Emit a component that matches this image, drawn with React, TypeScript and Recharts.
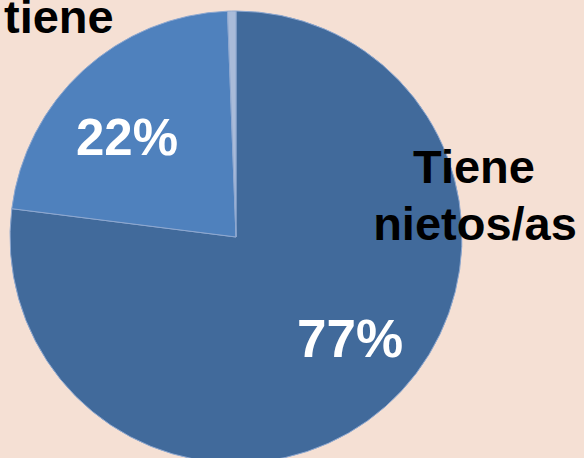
import * as React from 'react'
import { Pie, PieChart, Cell } from 'recharts'

const CATEGORIES = ['Tiene nietos/as', 'No tiene', 'NS/NC']
const VALUES = [77, 22.4, 0.6]
const PERCENT_LABELS = ['77%', '22%']

const SLICE_COLORS = ['#416a9b', '#4f81bd', '#a9bbd9']
const BG = '#f5e0d4'

const chartData = CATEGORIES.map((name, i) => ({ name, value: VALUES[i] }))

const labelFont: React.CSSProperties = {
  fontFamily: '"Liberation Sans", Arial, sans-serif',
  fontWeight: 700,
}

export default function App() {
  return (
    <div
      style={{
        position: 'fixed',
        left: 0,
        top: 0,
        width: 584,
        height: 458,
        background: BG,
        overflow: 'hidden',
      }}
    >
      <PieChart width={584} height={458} margin={{ top: 0, right: 0, bottom: 0, left: 0 }}>
        <Pie
          data={chartData}
          dataKey="value"
          nameKey="name"
          cx={236}
          cy={237}
          outerRadius={226}
          startAngle={90}
          endAngle={-270}
          stroke="#8ea8d0"
          strokeWidth={1}
          isAnimationActive={false}
        >
          {chartData.map((_, index) => (
            <Cell key={`cell-${index}`} fill={SLICE_COLORS[index]} />
          ))}
        </Pie>
      </PieChart>
      <svg
        width={584}
        height={458}
        style={{ position: 'absolute', left: 0, top: 0, pointerEvents: 'none' }}
      >
        <text x={350} y={357} textAnchor="middle" fill="#ffffff" fontSize={53} style={labelFont}>
          {PERCENT_LABELS[0]}
        </text>
        <text x={127} y={155} textAnchor="middle" fill="#ffffff" fontSize={51} style={labelFont}>
          {PERCENT_LABELS[1]}
        </text>
        <text textAnchor="middle" fill="#000000" fontSize={47} style={labelFont}>
          <tspan x={474} y={183}>Tiene</tspan>
          <tspan x={475} y={240}>nietos/as</tspan>
        </text>
        <text x={4} y={33} fill="#000000" fontSize={47} style={labelFont}>
          tiene
        </text>
      </svg>
    </div>
  )
}
